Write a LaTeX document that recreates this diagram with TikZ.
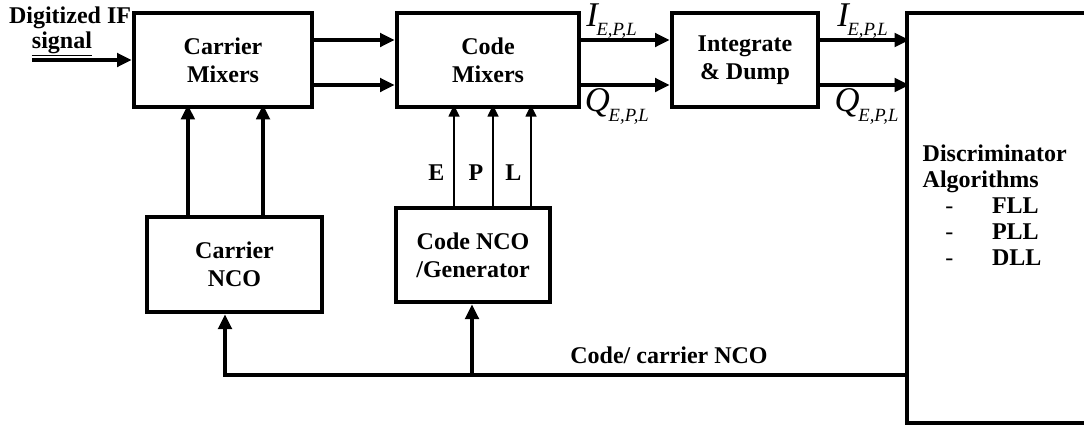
\documentclass[tikz,border=0pt]{standalone}
\usepackage{fontspec}
\setmainfont{Liberation Serif}
\usetikzlibrary{arrows.meta}
% italic signal name with E,P,L subscript
\newcommand{\sigEPL}[1]{{\normalfont\itshape\fontsize{26}{26}\selectfont #1}\kern-1pt\raisebox{-7pt}{\normalfont\itshape\fontsize{14}{14}\selectfont E,P,L}}
\begin{document}
\begin{tikzpicture}[x=0.75pt,y=-0.75pt,
  every node/.style={font=\fontsize{18}{21}\selectfont\bfseries},
  blk/.style={draw,line width=3.5pt,align=center,inner sep=0pt},
  arr/.style={line width=2.8pt,-{Triangle[length=11pt,width=10pt]}},
  thinarr/.style={line width=1.8pt,-{Triangle[length=9pt,width=8pt]}}]
\useasboundingbox (0,0) rectangle (1084,429);
% blocks
\node[blk,minimum width=133.5pt,minimum height=70.5pt] (cmix) at (223,60) {Carrier\\Mixers};
\node[blk,minimum width=136.5pt,minimum height=70.5pt] (codemix) at (488,60) {Code\\Mixers};
\node[blk,minimum width=109.5pt,minimum height=70.5pt] (intdump) at (745,60) {Integrate\\\& Dump};
\node[blk,minimum width=144.75pt,minimum height=307.5pt] (disc) at (1003.5,218) {};
\node[blk,minimum width=131.25pt,minimum height=71.25pt] (cnco) at (234.5,264.5) {Carrier\\NCO};
\node[blk,minimum width=115.5pt,minimum height=70.5pt] (codenco) at (473,255) {Code NCO\\/Generator};
\node[anchor=north west,align=left,font=\fontsize{18}{19.5}\selectfont\bfseries] (disctxt) at (918,140)
  {Discriminator\\Algorithms\\
   \makebox[52pt][l]{\hspace*{17pt}\normalfont -}FLL\\
   \makebox[52pt][l]{\hspace*{17pt}\normalfont -}PLL\\
   \makebox[52pt][l]{\hspace*{17pt}\normalfont -}DLL};
% input
\node (intxt) at (70,18) {Digitized IF};
\node (sigtxt) at (62,44) {\underline{signal}};
\coordinate (in) at (32,60);
\draw[arr] (in) -- (cmix.west);
% I and Q paths
\draw[arr] ([yshift=15pt]cmix.east) -- ([yshift=15pt]codemix.west);
\draw[arr] ([yshift=-18.75pt]cmix.east) -- ([yshift=-18.75pt]codemix.west);
\draw[arr] ([yshift=15pt]codemix.east) -- ([yshift=15pt]intdump.west)
  node[pos=0,anchor=base west,xshift=-1pt,yshift=10.5pt]{\sigEPL{I}};
\draw[arr] ([yshift=-18.75pt]codemix.east) -- ([yshift=-18.75pt]intdump.west)
  node[pos=0,anchor=base west,xshift=-2pt,yshift=-20pt]{\sigEPL{Q}};
\draw[arr] ([yshift=15pt]intdump.east) -- ++(89,0)
  node[pos=0,anchor=base west,xshift=8pt,yshift=10.5pt]{\sigEPL{I}};
\draw[arr] ([yshift=-18.75pt]intdump.east) -- ++(89,0)
  node[pos=0,anchor=base west,xshift=6pt,yshift=-20pt]{\sigEPL{Q}};
% carrier NCO to mixers
\draw[arr] ([xshift=-35pt]cnco.north) -- ++(0,-110);
\draw[arr] ([xshift=21.4pt]cnco.north) -- ++(0,-110);
% code replicas
\foreach \dx/\lab in {-14.25/E,15/P,43.5/L}
  \draw[thinarr] ([xshift=\dx pt]codenco.north) -- ++(0,-101)
    node[pos=0.33,left=3pt]{\lab};
% feedback
\coordinate (fbl) at (225,375);
\coordinate (fbm) at (472,375);
\draw[arr] (disc.west |- fbl) -- (fbl) -- (fbl |- cnco.south);
\draw[arr] (fbm) -- (fbm |- codenco.south);
\node (fbtxt) at (669,355) {Code/ carrier NCO};
\end{tikzpicture}
\end{document}
